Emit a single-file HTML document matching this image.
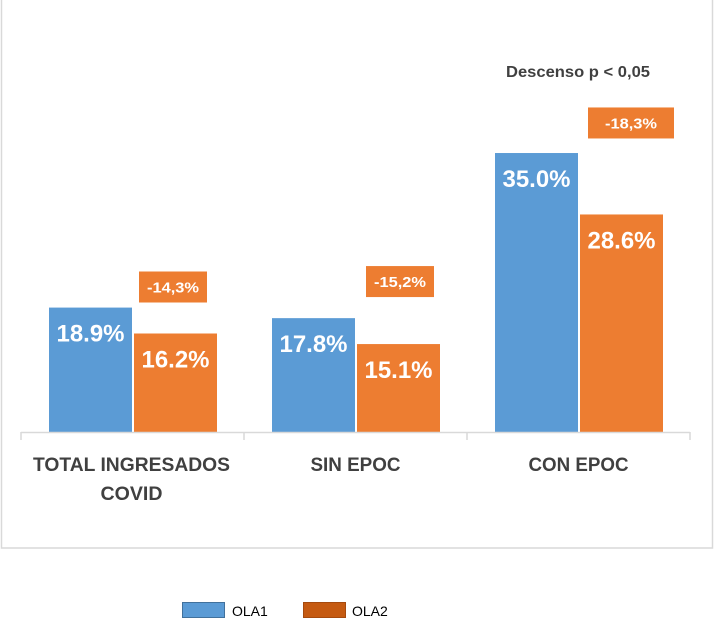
<!DOCTYPE html>
<html><head><meta charset="utf-8"><style>
html,body{margin:0;padding:0;background:#fff}
svg{display:block;font-family:"Liberation Sans",sans-serif}
</style></head><body>
<svg id="chart" width="716" height="624" viewBox="0 0 716 624">
<rect x="1.5" y="-1" width="711" height="549" fill="#fff" stroke="#d9d9d9" stroke-width="1.5"/>
<g id="bars"></g>
<line x1="21" y1="432.5" x2="690" y2="432.5" stroke="#d9d9d9" stroke-width="1.5"/>
<text x="578" y="77" text-anchor="middle" font-size="16" font-weight="bold" fill="#404040" textLength="144" lengthAdjust="spacingAndGlyphs">Descenso p &lt; 0,05</text>
<g>
<rect x="182.5" y="602.5" width="42" height="15" fill="#5b9bd5" stroke="#41719c"/>
<text x="232" y="616" font-size="14" fill="#000">OLA1</text>
<rect x="303.5" y="602.5" width="42" height="15" fill="#c55a11" stroke="#a54a0e"/>
<text x="352" y="616" font-size="14" fill="#000">OLA2</text>
</g>
</svg>
<script>
const categories = [["TOTAL INGRESADOS","COVID"],["SIN EPOC"],["CON EPOC"]];
const ola1 = [18.9, 17.8, 35.0];
const ola2 = [16.2, 15.1, 28.6];
const changes = ["-14,3%","-15,2%","-18,3%"];
const yMin = 5.94, pxPerUnit = 9.6, base = 432;
const y = v => base - (v - yMin) * pxPerUnit;
const x0 = 21, catW = 223;
const boxLift = [62, 78, 107];
const NS = "http://www.w3.org/2000/svg";
const g = document.getElementById('bars');
function mk(tag, attrs, txt){const e=document.createElementNS(NS,tag);for(const k in attrs)e.setAttribute(k,attrs[k]);if(txt!==undefined)e.textContent=txt;g.appendChild(e);return e;}
for(let i=0;i<=categories.length;i++){
  const t=mk('line',{x1:x0+i*catW,x2:x0+i*catW,y1:432,y2:440,stroke:'#d9d9d9','stroke-width':1.5});
  
  
}
categories.forEach((c,i)=>{
  const cx=x0+i*catW;
  const bx1=cx+28, bx2=cx+113, bw=83;
  const y1=y(ola1[i]), y2=y(ola2[i]);
  const r1=mk('rect',{x:bx1,y:y1,width:bw,height:base-y1,fill:'#5b9bd5'});
  
  
  const r2=mk('rect',{x:bx2,y:y2,width:bw,height:base-y2,fill:'#ed7d31'});
  
  
  const l1=mk('text',{x:bx1+bw/2,y:y1+34,'text-anchor':'middle','font-size':24,'font-weight':'bold',fill:'#fff',textLength:68,lengthAdjust:'spacingAndGlyphs'},ola1[i].toFixed(1)+'%');
  
  
  const l2=mk('text',{x:bx2+bw/2,y:y2+34,'text-anchor':'middle','font-size':24,'font-weight':'bold',fill:'#fff',textLength:68,lengthAdjust:'spacingAndGlyphs'},ola2[i].toFixed(1)+'%');
  
  
  const bw3 = i===2?86:68;
  const bxx = i===0?cx+118:(i===1?cx+122:cx+121);
  const byy = y2-boxLift[i];
  const cb=mk('rect',{x:bxx,y:byy,width:bw3,height:31,fill:'#ed7d31'});
  
  
  const ct=mk('text',{x:bxx+bw3/2,y:byy+21,'text-anchor':'middle','font-size':15,'font-weight':'bold',fill:'#fff',textLength:52,lengthAdjust:'spacingAndGlyphs'},changes[i]);
  
  
  c.forEach((line,j)=>{
    const attrs={x:cx+catW/2-(i===0?1:0),y:471+j*29,'text-anchor':'middle','font-size':19,'font-weight':'bold',fill:'#404040'};
    const widths={"TOTAL INGRESADOS":197,"COVID":62,"SIN EPOC":90,"CON EPOC":100};
    attrs.textLength=widths[line];attrs.lengthAdjust='spacingAndGlyphs';
    const t=mk('text',attrs,line);
    
    
  });
});
</script>
</body></html>
